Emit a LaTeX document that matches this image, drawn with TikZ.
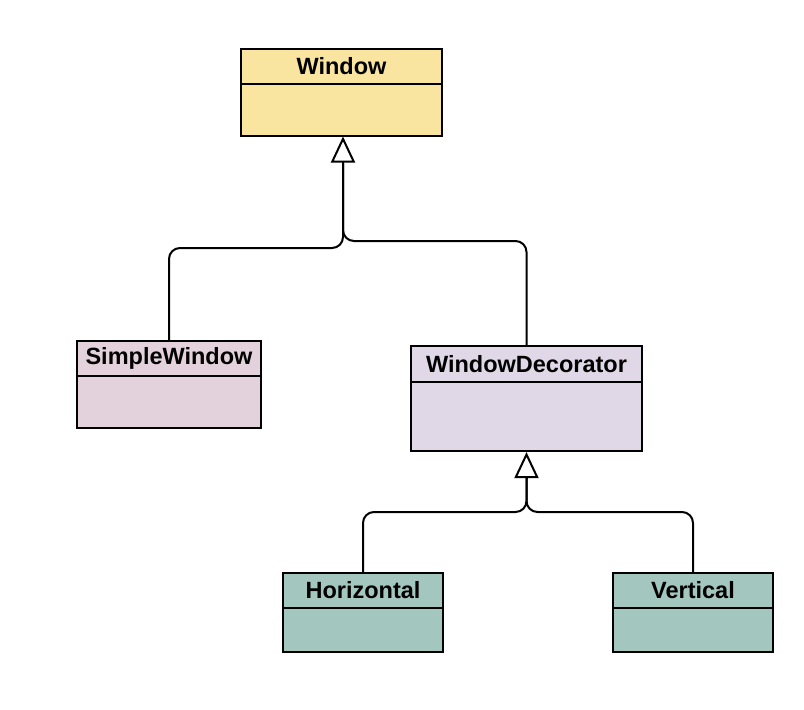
\documentclass[tikz,border=0pt]{standalone}
\usepackage{fontspec}
\setmainfont{Liberation Sans}
\usetikzlibrary{arrows.meta,calc}
\definecolor{cyel}{HTML}{F9E4A0}
\definecolor{cpink}{HTML}{E3D1DC}
\definecolor{clav}{HTML}{E0D8E6}
\definecolor{cgreen}{HTML}{A3C6BE}
\begin{document}
\begin{tikzpicture}[x=1pt,y=-1pt,
  cls/.style={draw=black,line width=2.2pt,rectangle,inner sep=0pt},
  lbl/.style={font=\fontsize{23.5}{27}\selectfont\bfseries,inner sep=0pt,anchor=center},
  conn/.style={line width=2pt,rounded corners=11pt},
  inh/.style={line width=2pt,-{Triangle[open,length=26pt,width=24pt]}}]
\useasboundingbox (0,0) rectangle (804,710);
% classes
\node[cls,fill=cyel,minimum width=201pt,minimum height=87pt] (win) at (341.5,92.5) {};
\node[lbl] (winl) at (341.5,66.5) {Window};
\draw[line width=2.2pt] (win.west |- 0,84) -- (win.east |- 0,84);

\node[cls,fill=cpink,minimum width=184pt,minimum height=87pt] (sw) at (169,384.5) {};
\node[lbl] (swl) at (169,358.5) {SimpleWindow};
\draw[line width=2.2pt] (sw.west |- 0,376) -- (sw.east |- 0,376);

\node[cls,fill=clav,minimum width=231pt,minimum height=105pt] (wd) at (526.5,398.5) {};
\node[lbl] (wdl) at (526.5,364) {WindowDecorator};
\draw[line width=2.2pt] (wd.west |- 0,382) -- (wd.east |- 0,382);

\node[cls,fill=cgreen,minimum width=160pt,minimum height=79pt] (hz) at (363,612.5) {};
\node[lbl] (hzl) at (363,590.5) {Horizontal};
\draw[line width=2.2pt] (hz.west |- 0,608) -- (hz.east |- 0,608);

\node[cls,fill=cgreen,minimum width=160pt,minimum height=79pt] (vt) at (693,612.5) {};
\node[lbl] (vtl) at (693,590.5) {Vertical};
\draw[line width=2.2pt] (vt.west |- 0,608) -- (vt.east |- 0,608);

% inheritance 1
\coordinate (t1) at (343,163);
\coordinate (b1l) at (343,248);
\coordinate (b1r) at (343,241);
\draw[conn] (sw.north) |- (b1l) -- (t1);
\draw[conn] (wd.north) |- (b1r) -- (t1);
\draw[inh] (t1) -- (343,136.5);

% inheritance 2
\coordinate (t2) at (526.5,478);
\coordinate (b2) at (526.5,512);
\draw[conn] (hz.north) |- (b2) -- (t2);
\draw[conn] (vt.north) |- (b2) -- (t2);
\draw[inh] (t2) -- (wd.south);
\end{tikzpicture}
\end{document}
